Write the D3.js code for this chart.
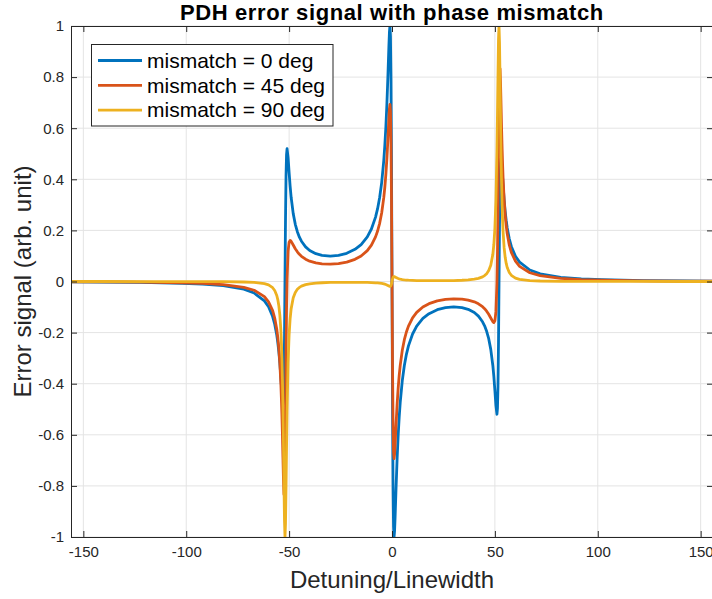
<!DOCTYPE html>
<html>
<head>
<meta charset="utf-8">
<script src="https://cdn.jsdelivr.net/npm/d3@7"></script>
<style>
  html, body { margin: 0; padding: 0; background: #fff; }
  svg { display: block; font-family: "Liberation Sans", Arial, Helvetica, sans-serif; }
</style>
</head>
<body>
<svg id="chart" width="712" height="599"></svg>
<script>
// ---- data ----
const detuning = [-156, -142, -122, -102, -92, -82, -72, -67, -62, -60, -58, -57, -56, -55.5, -55, -54.5,
  -54, -53.75, -53.5, -53.25, -53, -52.75, -52.5, -52.25, -52, -51.75, -51.5, -51.25, -51,
  -50.5, -50, -49.5, -49, -48, -47, -46, -45, -44, -42, -40,
  -37, -34, -30, -26, -22, -18, -15, -12, -10,
  -8, -7, -6, -5, -4, -3.5, -3, -2.5, -2, -1.75, -1.5, -1.25, -1, -0.75, -0.5, -0.25,
  0, 0.25, 0.5, 0.75, 1, 1.25, 1.5, 1.75, 2, 2.5, 3, 3.5, 4, 5, 6, 7, 8,
  10, 12, 15, 18, 22, 26, 30, 34, 37,
  40, 42, 44, 45, 46, 47, 48, 49, 49.5, 50, 50.5,
  51, 51.25, 51.5, 51.75, 52, 52.25, 52.5, 52.75, 53, 53.25, 53.5, 53.75, 54,
  54.5, 55, 55.5, 56, 57, 58, 60, 62, 67, 72, 82, 92, 102, 122, 142, 156];

const mismatch0 = [-0.0016, -0.0022, -0.0036, -0.0069, -0.0102, -0.0164, -0.0302, -0.0450, -0.0757, -0.0989, -0.1372, -0.1670, -0.2098, -0.2387, -0.2747, -0.3199,
  -0.3760, -0.4075, -0.4392, -0.4669, -0.4811, -0.4636, -0.3866, -0.2245, 0.0096, 0.2460, 0.4135, 0.4967, 0.5195,
  0.4851, 0.4260, 0.3724, 0.3287, 0.2656, 0.2238, 0.1948, 0.1736, 0.1577, 0.1357, 0.1216,
  0.1090, 0.1024, 0.0997, 0.1023, 0.1104, 0.1258, 0.1447, 0.1747, 0.2055,
  0.2520, 0.2851, 0.3286, 0.3881, 0.4732, 0.5305, 0.6018, 0.6910, 0.8009, 0.8622, 0.9235, 0.9758, 1.0000, 0.9598, 0.7998, 0.4704,
  0, -0.4704, -0.7998, -0.9598, -1.0000, -0.9758, -0.9235, -0.8622, -0.8009, -0.6910, -0.6018, -0.5305, -0.4732, -0.3881, -0.3286, -0.2851, -0.2520,
  -0.2055, -0.1747, -0.1447, -0.1258, -0.1104, -0.1023, -0.0997, -0.1024, -0.1090,
  -0.1216, -0.1357, -0.1577, -0.1736, -0.1948, -0.2238, -0.2656, -0.3287, -0.3724, -0.4260, -0.4851,
  -0.5195, -0.4967, -0.4135, -0.2460, -0.0096, 0.2245, 0.3866, 0.4636, 0.4811, 0.4669, 0.4392, 0.4075, 0.3760,
  0.3199, 0.2747, 0.2387, 0.2098, 0.1670, 0.1372, 0.0989, 0.0757, 0.0450, 0.0302, 0.0164, 0.0102, 0.0069, 0.0036, 0.0022, 0.0016];

const mismatch45 = [-0.0011, -0.0016, -0.0026, -0.0050, -0.0075, -0.0121, -0.0227, -0.0343, -0.0594, -0.0794, -0.1142, -0.1429, -0.1870, -0.2188, -0.2611, -0.3193,
  -0.4021, -0.4565, -0.5220, -0.5996, -0.6870, -0.7738, -0.8335, -0.8209, -0.7001, -0.4946, -0.2786, -0.1078, 0.0069,
  0.1190, 0.1541, 0.1608, 0.1573, 0.1427, 0.1281, 0.1161, 0.1063, 0.0986, 0.0872, 0.0795,
  0.0726, 0.0689, 0.0678, 0.0700, 0.0759, 0.0868, 0.1000, 0.1209, 0.1423,
  0.1746, 0.1976, 0.2278, 0.2691, 0.3281, 0.3678, 0.4173, 0.4792, 0.5554, 0.5979, 0.6404, 0.6767, 0.6935, 0.6656, 0.5547, 0.3262,
  0, -0.3262, -0.5547, -0.6656, -0.6935, -0.6767, -0.6404, -0.5979, -0.5554, -0.4792, -0.4173, -0.3678, -0.3281, -0.2691, -0.2278, -0.1976, -0.1746,
  -0.1423, -0.1209, -0.1000, -0.0868, -0.0759, -0.0700, -0.0678, -0.0689, -0.0726,
  -0.0795, -0.0872, -0.0986, -0.1063, -0.1161, -0.1281, -0.1427, -0.1573, -0.1608, -0.1541, -0.1190,
  -0.0069, 0.1078, 0.2786, 0.4946, 0.7001, 0.8209, 0.8335, 0.7738, 0.6870, 0.5996, 0.5220, 0.4565, 0.4021,
  0.3193, 0.2611, 0.2188, 0.1870, 0.1429, 0.1142, 0.0794, 0.0594, 0.0343, 0.0227, 0.0121, 0.0075, 0.0050, 0.0026, 0.0016, 0.0011];

const mismatch90 = [0, 0, -0.0001, -0.0002, -0.0004, -0.0007, -0.0019, -0.0035, -0.0084, -0.0134, -0.0243, -0.0352, -0.0547, -0.0708, -0.0946, -0.1316,
  -0.1926, -0.2381, -0.2991, -0.3810, -0.4905, -0.6308, -0.7922, -0.9364, -0.9997, -0.9455, -0.8076, -0.6492, -0.5097,
  -0.3168, -0.2080, -0.1449, -0.1062, -0.0638, -0.0427, -0.0307, -0.0232, -0.0183, -0.0124, -0.0091,
  -0.0064, -0.0049, -0.0038, -0.0033, -0.0031, -0.0031, -0.0033, -0.0037, -0.0043,
  -0.0051, -0.0057, -0.0065, -0.0076, -0.0092, -0.0103, -0.0117, -0.0134, -0.0155, -0.0166, -0.0178, -0.0188, -0.0193, -0.0185, -0.0154, -0.0091,
  0, 0.0091, 0.0154, 0.0185, 0.0193, 0.0188, 0.0178, 0.0166, 0.0155, 0.0134, 0.0117, 0.0103, 0.0092, 0.0076, 0.0065, 0.0057, 0.0051,
  0.0043, 0.0037, 0.0033, 0.0031, 0.0031, 0.0033, 0.0038, 0.0049, 0.0064,
  0.0091, 0.0124, 0.0183, 0.0232, 0.0307, 0.0427, 0.0638, 0.1062, 0.1449, 0.2080, 0.3168,
  0.5097, 0.6492, 0.8076, 0.9455, 0.9997, 0.9364, 0.7922, 0.6308, 0.4905, 0.3810, 0.2991, 0.2381, 0.1926,
  0.1316, 0.0946, 0.0708, 0.0547, 0.0352, 0.0243, 0.0134, 0.0084, 0.0035, 0.0019, 0.0007, 0.0004, 0.0002, 0.0001, 0, 0];

const seriesNames = ["mismatch = 0 deg", "mismatch = 45 deg", "mismatch = 90 deg"];
const seriesValues = [mismatch0, mismatch45, mismatch90];
const seriesColors = ["#0072BD", "#D95319", "#EDB120"];
const xTicks = [-150, -100, -50, 0, 50, 100, 150];
const yTicks = [-1, -0.8, -0.6, -0.4, -0.2, 0, 0.2, 0.4, 0.6, 0.8, 1];
const titleText = "PDH error signal with phase mismatch";
const xLabelText = "Detuning/Linewidth";
const yLabelText = "Error signal (arb. unit)";

// ---- layout ----
const L = 71, R = 713, T = 26, B = 537;
const axisColor = "#262626";

const svg = d3.select("#chart");
const x = d3.scaleLinear().domain([-156, 156]).range([L, R]);
const y = d3.scaleLinear().domain([-1, 1]).range([B, T]);

// grid
const grid = svg.append("g");
grid.selectAll("line.gx").data(xTicks).join("line").attr("class", "gx")
  .attr("x1", d => x(d)).attr("x2", d => x(d)).attr("y1", T).attr("y2", B)
  .attr("stroke", "#e4e4e4").attr("stroke-width", 1);
grid.selectAll("line.gy").data(yTicks).join("line").attr("class", "gy")
  .attr("x1", L).attr("x2", R).attr("y1", d => y(d)).attr("y2", d => y(d))
  .attr("stroke", "#e4e4e4").attr("stroke-width", 1);

// clip
svg.append("clipPath").attr("id", "plotclip").append("rect")
  .attr("x", L).attr("y", T).attr("width", R - L).attr("height", B - T);

// lines
const line = d3.line().x(d => x(d[0])).y(d => y(d[1]));
const plot = svg.append("g").attr("clip-path", "url(#plotclip)");
seriesValues.forEach((vals, i) => {
  const pts = detuning.map((d, k) => [d, vals[k]]);
  plot.append("path").datum(pts)
    .attr("fill", "none").attr("stroke", seriesColors[i])
    .attr("stroke-width", 2.8).attr("stroke-linejoin", "round")
    .attr("d", line);
});

// axes (MATLAB style: ticks inward, box)
const tickLen = 6;
const fmtY = d => String(+d.toFixed(1));
const xAxisB = d3.axisBottom(x).tickValues(xTicks).tickSizeInner(-tickLen).tickSizeOuter(0).tickPadding(9.5).tickFormat(d => String(d));
const xAxisT = d3.axisTop(x).tickValues(xTicks).tickSizeInner(-tickLen).tickSizeOuter(0).tickFormat("");
const yAxisL = d3.axisLeft(y).tickValues(yTicks).tickSizeInner(-tickLen).tickSizeOuter(0).tickPadding(7).tickFormat(fmtY);
const yAxisR = d3.axisRight(y).tickValues(yTicks).tickSizeInner(-tickLen).tickSizeOuter(0).tickFormat("");

function styleAxis(g) {
  g.selectAll("path.domain").attr("stroke", axisColor).attr("stroke-width", 1);
  g.selectAll(".tick line").attr("stroke", axisColor).attr("stroke-width", 1);
  g.selectAll(".tick text").attr("fill", axisColor).attr("font-size", 15)
    .attr("font-family", "'Liberation Sans', Arial, sans-serif");
}
svg.append("g").attr("transform", `translate(0,${B})`).call(xAxisB).call(styleAxis);
svg.append("g").attr("transform", `translate(0,${T})`).call(xAxisT).call(styleAxis);
svg.append("g").attr("transform", `translate(${L},0)`).call(yAxisL).call(styleAxis);
svg.append("g").attr("transform", `translate(${R},0)`).call(yAxisR).call(styleAxis);

// title & labels
svg.append("text").attr("x", (L + R) / 2).attr("y", 20).attr("text-anchor", "middle")
  .attr("font-size", 22).attr("font-weight", "bold").attr("letter-spacing", 0.6)
  .attr("fill", "#000").text(titleText);
svg.append("text").attr("x", (L + R) / 2).attr("y", 588).attr("text-anchor", "middle")
  .attr("font-size", 24).attr("fill", axisColor).text(xLabelText);
svg.append("text").attr("transform", `translate(31,${(T + B) / 2}) rotate(-90)`).attr("text-anchor", "middle")
  .attr("font-size", 24).attr("fill", axisColor).text(yLabelText);

// legend
const leg = svg.append("g");
leg.append("rect").attr("x", 91.5).attr("y", 44.5).attr("width", 241.5).attr("height", 81.5)
  .attr("fill", "#fff").attr("stroke", axisColor).attr("stroke-width", 1);
seriesNames.forEach((name, i) => {
  const cy = 60.5 + i * 24.8;
  leg.append("line").attr("x1", 98).attr("x2", 142).attr("y1", cy).attr("y2", cy)
    .attr("stroke", seriesColors[i]).attr("stroke-width", 2.8);
  leg.append("text").attr("x", 147).attr("y", cy).attr("dy", "0.35em")
    .attr("font-size", 21).attr("fill", "#000").text(name);
});
</script>
</body>
</html>
